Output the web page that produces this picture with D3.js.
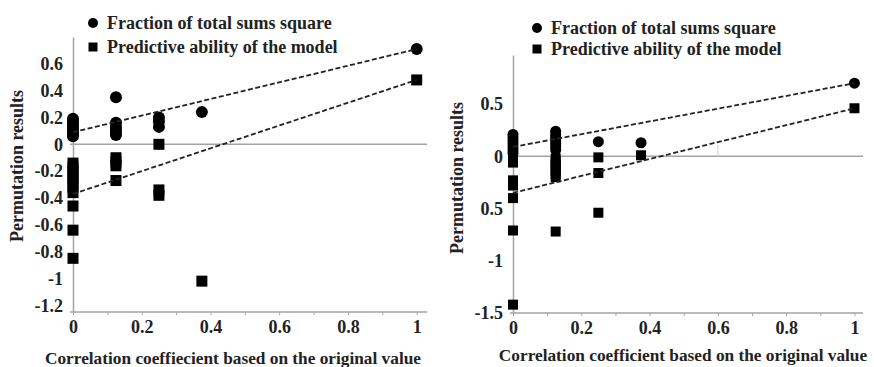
<!DOCTYPE html>
<html>
<head>
<meta charset="utf-8">
<script src="https://cdn.jsdelivr.net/npm/d3@7"></script>
<style>
    body { margin: 0; background: #fff; }
    svg { display: block; font-family: "Liberation Serif", "Times New Roman", serif; font-weight: bold; }
</style>
</head>
<body>
<script>
// permutation test, two panels

var xTicks = [0, 0.2, 0.4, 0.6, 0.8, 1];
var xMinorTicks = [0, 0.1, 0.2, 0.3, 0.4, 0.5, 0.6, 0.7, 0.8, 0.9, 1];

var leftYTicks = [0.6, 0.4, 0.2, 0, -0.2, -0.4, -0.6, -0.8, -1, -1.2];
var leftYLabels = ["0.6", "0.4", "0.2", "0", "-0.2", "-0.4", "-0.6", "-0.8", "-1", "-1.2"];
var rightYTicks = [0.5, 0, -0.5, -1, -1.5];
var rightYLabels = ["0.5", "0", "0.5", "-1", "-1.5"];   // minus sign is missing in the original

var legendNames = ["Fraction of total sums square", "Predictive ability of the model"];
var leftXTitle = "Correlation coeffiecient based on the original value";
var rightXTitle = "Correlation coefficient based on the original value";
var yTitle = "Permutation results";

// left panel: [correlation, value]
var leftR2 = [
    [0, 0.19], [0, 0.17], [0, 0.15], [0, 0.13], [0, 0.11], [0, 0.09], [0, 0.07], [0, 0.06],
    [0.125, 0.35], [0.125, 0.16], [0.125, 0.13], [0.125, 0.11], [0.125, 0.09], [0.125, 0.07],
    [0.25, 0.2], [0.25, 0.17], [0.25, 0.13],
    [0.375, 0.24],
    [1, 0.71]
];
var leftQ2 = [
    [0, -0.14], [0, -0.17], [0, -0.2], [0, -0.23], [0, -0.26], [0, -0.29], [0, -0.32], [0, -0.36],
    [0, -0.46], [0, -0.64], [0, -0.85],
    [0.125, -0.1], [0.125, -0.13], [0.125, -0.16], [0.125, -0.27],
    [0.25, 0], [0.25, -0.34], [0.25, -0.38],
    [0.375, -1.02],
    [1, 0.48]
];
var leftR2Line = [[0, 0.09], [1, 0.71]];
var leftQ2Line = [[0, -0.37], [1, 0.48]];

// right panel
var rightR2 = [
    [0, 0.21], [0, 0.18], [0, 0.15], [0, 0.12], [0, 0.09], [0, 0.06], [0, 0.03],
    [0.125, 0.24], [0.125, 0.21], [0.125, 0.18], [0.125, 0.15], [0.125, 0.12], [0.125, 0.09], [0.125, 0.06],
    [0.25, 0.14],
    [0.375, 0.13],
    [1, 0.7]
];
var rightQ2 = [
    [0, -0.03], [0, -0.06], [0, -0.23], [0, -0.28], [0, -0.4], [0, -0.71], [0, -1.42],
    [0.125, -0.02], [0.125, -0.05], [0.125, -0.08], [0.125, -0.11], [0.125, -0.14], [0.125, -0.17], [0.125, -0.2],
    [0.125, -0.72],
    [0.25, -0.01], [0.25, -0.16], [0.25, -0.54],
    [0.375, 0.01],
    [1, 0.46]
];
var rightR2Line = [[0, 0.09], [1, 0.7]];
var rightQ2Line = [[0, -0.35], [1, 0.46]];

var svg = d3.select("body").append("svg").attr("width", 874).attr("height", 367);

drawPanel({
    xDomain: [0, 1.03], xRange: [73, 427],
    yDomain: [-1.25, 0.8], yRange: [312, 37],
    yTicks: leftYTicks, yLabels: leftYLabels,
    r2: leftR2, q2: leftQ2, r2Line: leftR2Line, q2Line: leftQ2Line,
    radius: 6, side: 11,
    legendX: 93, legendY: [23, 47],
    xTitle: leftXTitle, xTitleX: 233, xTitleY: 364,
    yTitleX: 23, yTitleY: 166,
    stub: false
});

drawPanel({
    xDomain: [0, 1.025], xRange: [513, 863],
    yDomain: [-1.5, 0.97], yRange: [313, 55],
    yTicks: rightYTicks, yLabels: rightYLabels,
    r2: rightR2, q2: rightQ2, r2Line: rightR2Line, q2Line: rightQ2Line,
    radius: 5.5, side: 10,
    legendX: 537, legendY: [28, 49],
    xTitle: rightXTitle, xTitleX: 683, xTitleY: 361,
    yTitleX: 463, yTitleY: 178,
    stub: true
});

function drawPanel(p){
    var x = d3.scaleLinear().domain(p.xDomain).range(p.xRange);
    var y = d3.scaleLinear().domain(p.yDomain).range(p.yRange);
    var g = svg.append("g");
    var grey = "#a3a3a3";
    var fontSize = 18;

    // y axis (line + labels)
    var yAxis = g.append("g")
        .attr("transform", "translate(" + p.xRange[0] + ",0)")
        .call(d3.axisLeft(y).tickValues(p.yTicks).tickSize(0).tickPadding(10)
            .tickFormat(function(d, i){ return p.yLabels[i]; }));
    yAxis.select(".domain").attr("stroke", grey).attr("stroke-width", 1.5);
    yAxis.selectAll("text").attr("font-size", fontSize).attr("fill", "#222")
        .attr("font-family", "Liberation Serif, serif").attr("font-weight", "bold");

    // minor ticks on the bottom axis
    g.append("g")
        .attr("transform", "translate(0," + p.yRange[0] + ")")
        .call(d3.axisBottom(x).tickValues(xMinorTicks).tickSize(3).tickSizeOuter(0).tickFormat(""))
        .call(function(a){ a.select(".domain").remove(); a.selectAll("line").attr("stroke", grey); });

    // bottom axis labels
    var xAxis = g.append("g")
        .attr("transform", "translate(0," + p.yRange[0] + ")")
        .call(d3.axisBottom(x).tickValues(xTicks).tickSize(0).tickPadding(8)
            .tickFormat(function(d){ return d3.format("")(d); }));
    xAxis.select(".domain").remove();
    xAxis.selectAll("text").attr("font-size", fontSize).attr("fill", "#222")
        .attr("font-family", "Liberation Serif, serif").attr("font-weight", "bold");

    // bottom axis line and zero line
    [p.yDomain[0], 0].forEach(function(v){
        g.append("line")
            .attr("x1", p.xRange[0] - 3).attr("x2", p.xRange[1])
            .attr("y1", y(v)).attr("y2", y(v))
            .attr("stroke", grey).attr("stroke-width", 1.5);
    });

    if (p.stub){
        g.append("line")
            .attr("x1", x(0.6)).attr("x2", x(0.6))
            .attr("y1", y(0)).attr("y2", y(0.11))
            .attr("stroke", "#d0d0d0").attr("stroke-width", 1);
    }

    // squares (predictive ability)
    g.selectAll(".q2")
        .data(p.q2)
        .enter()
        .append("rect")
        .attr("class", "q2")
        .attr("x", function(d){ return x(d[0]) - p.side / 2; })
        .attr("y", function(d){ return y(d[1]) - p.side / 2; })
        .attr("width", p.side)
        .attr("height", p.side)
        .attr("fill", "#000");

    // circles (fraction of total sums square)
    g.selectAll(".r2")
        .data(p.r2)
        .enter()
        .append("circle")
        .attr("class", "r2")
        .attr("cx", function(d){ return x(d[0]); })
        .attr("cy", function(d){ return y(d[1]); })
        .attr("r", p.radius)
        .attr("fill", "#000");

    // dashed trend lines
    var line = d3.line()
        .x(function(d){ return x(d[0]); })
        .y(function(d){ return y(d[1]); });
    [p.r2Line, p.q2Line].forEach(function(l){
        g.append("path")
            .attr("d", line(l))
            .attr("fill", "none")
            .attr("stroke", "#222")
            .attr("stroke-width", 1.8)
            .attr("stroke-dasharray", "5,2.5");
    });

    // legend
    g.append("circle")
        .attr("cx", p.legendX).attr("cy", p.legendY[0]).attr("r", 5).attr("fill", "#000");
    g.append("rect")
        .attr("x", p.legendX - 4.5).attr("y", p.legendY[1] - 4.5)
        .attr("width", 9).attr("height", 9).attr("fill", "#000");
    legendNames.forEach(function(name, i){
        g.append("text")
            .attr("x", p.legendX + 14)
            .attr("y", p.legendY[i] + 6)
            .attr("font-size", fontSize)
            .attr("fill", "#222")
            .text(name);
    });

    // axis titles
    g.append("text")
        .attr("x", p.xTitleX).attr("y", p.xTitleY)
        .attr("text-anchor", "middle")
        .attr("font-size", 17.3)
        .attr("fill", "#222")
        .text(p.xTitle);

    g.append("text")
        .attr("transform", "translate(" + p.yTitleX + "," + p.yTitleY + ") rotate(-90)")
        .attr("text-anchor", "middle")
        .attr("font-size", fontSize)
        .attr("fill", "#222")
        .text(yTitle);
}
</script>
</body>
</html>
